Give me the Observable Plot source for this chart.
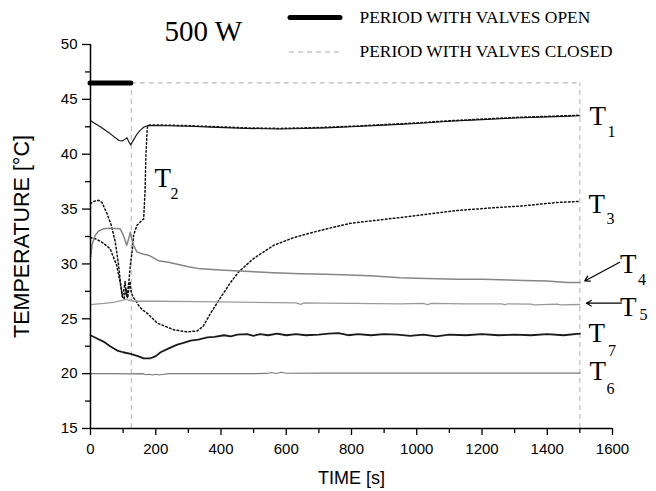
<!DOCTYPE html>
<html><head><meta charset="utf-8">
<script src="https://cdn.jsdelivr.net/npm/d3@7"></script>
<script src="https://cdn.jsdelivr.net/npm/@observablehq/plot@0.6"></script>
<style>body{margin:0;background:#fff}#chart svg{display:block}</style>
</head><body><div id="chart"></div>
<script>
// ---- data ----
const t1Time = [0, 30, 61, 87, 97, 105, 112, 118, 123, 133, 143, 153, 163, 176, 230, 300, 390, 480, 580, 650, 720, 800, 900, 1000, 1100, 1200, 1300, 1400, 1450, 1500];
const t1Temp = [43.05, 42.5, 41.86, 41.25, 41.2, 41.35, 41.5, 41.1, 40.85, 41.35, 41.86, 42.2, 42.46, 42.62, 42.6, 42.55, 42.45, 42.35, 42.3, 42.35, 42.4, 42.5, 42.65, 42.8, 43.0, 43.15, 43.3, 43.4, 43.45, 43.5];

const t2Time = [0, 15, 34, 60, 80, 91, 98, 103, 108, 112, 118, 122, 127, 132, 142, 155, 163, 167, 170, 174, 178, 230, 300, 390, 480, 580, 650, 720, 800, 900, 1000, 1100, 1200, 1300, 1400, 1450, 1500];
const t2Temp = [32.4, 32.3, 32.0, 31.4, 29.9, 28.3, 27.0, 26.8, 27.8, 27.0, 28.5, 29.9, 31.0, 32.6, 33.5, 33.9, 34.1, 36.5, 40.0, 42.4, 42.66, 42.65, 42.6, 42.5, 42.4, 42.35, 42.4, 42.45, 42.55, 42.7, 42.85, 43.05, 43.2, 43.35, 43.45, 43.5, 43.55];

const t3Time = [0, 10, 25, 35, 49, 64, 76, 86, 93, 98, 102, 106, 110, 114, 118, 121, 125, 130, 140, 150, 160, 174, 205, 255, 297, 327, 345, 368, 398, 429, 455, 500, 562, 623, 684, 745, 797, 868, 941, 1022, 1124, 1226, 1328, 1430, 1500];
const t3Temp = [35.5, 35.7, 35.8, 35.6, 34.7, 33.5, 32.0, 29.9, 28.0, 27.0, 27.6, 28.4, 27.3, 26.9, 27.8, 28.4, 27.4, 27.0, 26.6, 26.1, 25.8, 25.5, 24.6, 24.0, 23.8, 23.9, 24.3, 25.5, 26.9, 28.3, 29.3, 30.5, 31.7, 32.4, 32.9, 33.35, 33.7, 33.95, 34.2, 34.5, 34.87, 35.1, 35.3, 35.6, 35.7];

const t4Time = [0, 5, 14, 25, 40, 60, 91, 101, 111, 117, 122, 127, 132, 142, 160, 178, 208, 239, 300, 337, 398, 455, 490, 560, 644, 720, 797, 870, 950, 1000, 1124, 1200, 1328, 1400, 1440, 1462, 1500];
const t4Temp = [30.6, 31.8, 32.6, 33.0, 33.2, 33.25, 33.2, 32.6, 31.7, 32.3, 32.9, 32.2, 31.7, 31.1, 30.9, 30.8, 30.3, 30.15, 29.75, 29.55, 29.45, 29.35, 29.3, 29.2, 29.1, 29.05, 29.0, 28.9, 28.75, 28.7, 28.6, 28.6, 28.5, 28.45, 28.35, 28.3, 28.3];

const t5Time = [0, 40, 71, 100, 112, 118, 124, 130, 160, 200, 337, 500, 630, 644, 655, 700, 800, 950, 1020, 1033, 1045, 1150, 1260, 1270, 1280, 1350, 1360, 1430, 1440, 1500];
const t5Temp = [26.3, 26.4, 26.5, 26.7, 26.8, 26.65, 26.75, 26.6, 26.6, 26.6, 26.57, 26.5, 26.45, 26.32, 26.45, 26.42, 26.4, 26.36, 26.4, 26.3, 26.4, 26.36, 26.36, 26.28, 26.36, 26.34, 26.27, 26.33, 26.26, 26.3];

const t6Time = [0, 60, 120, 160, 170, 180, 190, 200, 210, 220, 240, 300, 400, 500, 540, 555, 570, 585, 600, 700, 800, 900, 1000, 1100, 1200, 1300, 1400, 1500];
const t6Temp = [20.0, 20.0, 19.98, 20.0, 19.9, 19.95, 19.88, 19.95, 19.88, 19.92, 20.0, 20.0, 20.0, 20.0, 20.02, 20.1, 20.02, 20.12, 20.04, 20.05, 20.05, 20.05, 20.05, 20.05, 20.05, 20.05, 20.05, 20.05];

const t7Time = [0, 20, 41, 60, 82, 100, 123, 145, 163, 184, 200, 215, 240, 266, 285, 307, 330, 358, 380, 409, 430, 450, 480, 500, 520, 545, 572, 600, 630, 660, 700, 730, 760, 790, 820, 860, 900, 940, 980, 1020, 1060, 1100, 1150, 1200, 1250, 1300, 1350, 1400, 1450, 1500];
const t7Temp = [23.5, 23.2, 22.9, 22.5, 22.1, 21.95, 21.8, 21.6, 21.4, 21.4, 21.6, 21.95, 22.3, 22.65, 22.8, 23.0, 23.1, 23.3, 23.35, 23.5, 23.4, 23.55, 23.6, 23.45, 23.6, 23.5, 23.65, 23.5, 23.6, 23.5, 23.55, 23.65, 23.7, 23.5, 23.6, 23.5, 23.6, 23.55, 23.45, 23.55, 23.4, 23.55, 23.5, 23.6, 23.5, 23.55, 23.5, 23.6, 23.5, 23.65];

const valveOpenPeriod = [0, 125];     // s
const valveClosedPeriod = [125, 1500]; // s
const valveMarkerLevel = [46.5];       // °C level of the period markers

const xMajorTicks = [0, 200, 400, 600, 800, 1000, 1200, 1400, 1600];
const xMinorTicks = [100, 300, 500, 700, 900, 1100, 1300, 1500];
const yMajorTicks = [15, 20, 25, 30, 35, 40, 45, 50];
const yMinorTicks = [17.5, 22.5, 27.5, 32.5, 37.5, 42.5, 47.5];

const titleText = "500 W";
const legendTexts = ["PERIOD WITH VALVES OPEN", "PERIOD WITH VALVES CLOSED"];
const xTitle = "TIME [s]";
const yTitle = "TEMPERATURE [°C]";

// ---- tables ----
const rows = (name, time, temp) => time.map((t, i) => ({name, time: t, temp: temp[i]}));
const S = {
  T1: rows("T1", t1Time, t1Temp),
  T2: rows("T2", t2Time, t2Temp),
  T3: rows("T3", t3Time, t3Temp),
  T4: rows("T4", t4Time, t4Temp),
  T5: rows("T5", t5Time, t5Temp),
  T6: rows("T6", t6Time, t6Temp),
  T7: rows("T7", t7Time, t7Temp)
};

const serif = "'Liberation Serif', 'Times New Roman', serif";
const sans = "'Liberation Sans', Arial, sans-serif";
const dotted = "1.6,2.4";

const lineStyle = {
  T1: {stroke: "#111", strokeWidth: 1.1},
  T2: {stroke: "#111", strokeWidth: 1.5, strokeDasharray: dotted},
  T3: {stroke: "#111", strokeWidth: 1.5, strokeDasharray: dotted},
  T4: {stroke: "#858585", strokeWidth: 1.5},
  T5: {stroke: "#9a9a9a", strokeWidth: 1.3},
  T6: {stroke: "#7a7a7a", strokeWidth: 1.1},
  T7: {stroke: "#1a1a1a", strokeWidth: 1.8}
};

// label layout: anchor point on series + pixel offsets for "T" and subscript
const lastOf = (k) => S[k][S[k].length - 1];
const labelLayout = [
  {k: "T1", a: lastOf("T1"), dx: 9.5, dy: 9, sdx: 27.5, sdy: 21},
  {k: "T2", a: S.T2.find(d => d.time === 178), dx: 6, dy: 61.5, sdx: 22, sdy: 73.5},
  {k: "T3", a: lastOf("T3"), dx: 8.5, dy: 11.5, sdx: 26.5, sdy: 23},
  {k: "T4", a: lastOf("T4"), dx: 40, dy: -9.5, sdx: 58, sdy: 2},
  {k: "T5", a: lastOf("T5"), dx: 40, dy: 11, sdx: 59.5, sdy: 15},
  {k: "T7", a: lastOf("T7"), dx: 8.5, dy: 8, sdx: 28, sdy: 22.5},
  {k: "T6", a: lastOf("T6"), dx: 9.5, dy: 7, sdx: 26.5, sdy: 21}
];
const labelMarks = labelLayout.flatMap(({k, a, dx, dy, sdx, sdy}) => [
  Plot.text([a], {x: "time", y: "temp", text: () => "T", dx, dy, textAnchor: "start", lineAnchor: "bottom", fontFamily: serif, fontSize: 27, fill: "#000"}),
  Plot.text([a], {x: "time", y: "temp", text: () => k.slice(1), dx: sdx, dy: sdy, textAnchor: "start", lineAnchor: "bottom", fontFamily: serif, fontSize: 16, fill: "#000"})
]);

// arrows pointing from T4 / T5 labels to curve ends
const arrows = [
  {x1: 1622, y1: 30.15, x2: 1515, y2: 28.45},
  {x1: 1627, y1: 26.42, x2: 1520, y2: 26.42}
];

const chart = Plot.plot({
  width: 656,
  height: 491,
  marginLeft: 90,
  marginRight: 44,
  marginTop: 44,
  marginBottom: 63,
  style: {fontFamily: sans, fontSize: "15px", color: "#000", background: "#fff", overflow: "visible"},
  x: {domain: [0, 1600]},
  y: {domain: [15, 50]},
  marks: [
    // valve period markers
    Plot.ruleY(valveMarkerLevel, {x1: valveClosedPeriod[0], x2: valveClosedPeriod[1], stroke: "#a8a8a8", strokeWidth: 1, strokeDasharray: "5,4"}),
    Plot.ruleX(valveClosedPeriod, {y1: 15, y2: valveMarkerLevel[0], stroke: "#b0b0b0", strokeWidth: 1, strokeDasharray: "5,4"}),
    // series
    ...Object.keys(S).map(k => Plot.line(S[k], {x: "time", y: "temp", ...lineStyle[k]})),
    Plot.ruleY(valveMarkerLevel, {x1: valveOpenPeriod[0], x2: valveOpenPeriod[1], stroke: "#000", strokeWidth: 5, strokeLinecap: "round"}),
    // axes
    Plot.axisX(xMajorTicks, {anchor: "bottom", tickSize: 7, tickPadding: 8, tickFormat: d => String(d), fontSize: 15, label: null, strokeWidth: 1.3}),
    Plot.axisX(xMinorTicks, {anchor: "bottom", tickSize: 5, tickFormat: () => "", label: null, strokeWidth: 1.3}),
    Plot.axisY(yMajorTicks, {anchor: "left", tickSize: 8, tickPadding: 5, tickFormat: d => String(d), fontSize: 15, label: null, strokeWidth: 1.3}),
    Plot.axisY(yMinorTicks, {anchor: "left", tickSize: 5, tickFormat: () => "", label: null, strokeWidth: 1.3}),
    Plot.ruleX([0], {stroke: "#000", strokeWidth: 1.5}),
    Plot.ruleY([15], {stroke: "#000", strokeWidth: 1.5}),
    // axis titles
    Plot.text([xTitle], {text: d => d, frameAnchor: "bottom", dy: 55, lineAnchor: "bottom", textAnchor: "middle", fontSize: 18, fontFamily: sans, fill: "#000"}),
    Plot.text([yTitle], {text: d => d, frameAnchor: "left", dx: -68, rotate: -90, textAnchor: "middle", lineAnchor: "middle", fontSize: 21.5, fontFamily: sans, fill: "#000"}),
    // title
    Plot.text([titleText], {text: d => d, frameAnchor: "top-left", dx: 74, dy: -4, textAnchor: "start", lineAnchor: "bottom", fontSize: 29, fontFamily: serif, fill: "#000"}),
    // legend texts
    Plot.text([legendTexts[0]], {text: d => d, frameAnchor: "top-left", dx: 269, dy: -21.5, textAnchor: "start", lineAnchor: "bottom", fontSize: 17.4, fontFamily: serif, fill: "#000"}),
    Plot.text([legendTexts[1]], {text: d => d, frameAnchor: "top-left", dx: 269, dy: 12.5, textAnchor: "start", lineAnchor: "bottom", fontSize: 17.4, fontFamily: serif, fill: "#000"}),
    // curve labels & arrows
    ...labelMarks,
    Plot.arrow(arrows, {x1: "x1", y1: "y1", x2: "x2", y2: "y2", stroke: "#000", strokeWidth: 1.2, headLength: 7})
  ]
});

// legend swatches
const svg = d3.select(chart);
svg.append("line").attr("x1", 290).attr("x2", 340).attr("y1", 17.5).attr("y2", 17.5)
  .attr("stroke", "#000").attr("stroke-width", 5).attr("stroke-linecap", "round");
svg.append("line").attr("x1", 289).attr("x2", 341).attr("y1", 52).attr("y2", 52)
  .attr("stroke", "#a8a8a8").attr("stroke-width", 1).attr("stroke-dasharray", "5,4");

document.getElementById("chart").append(chart);
</script>
</body></html>
